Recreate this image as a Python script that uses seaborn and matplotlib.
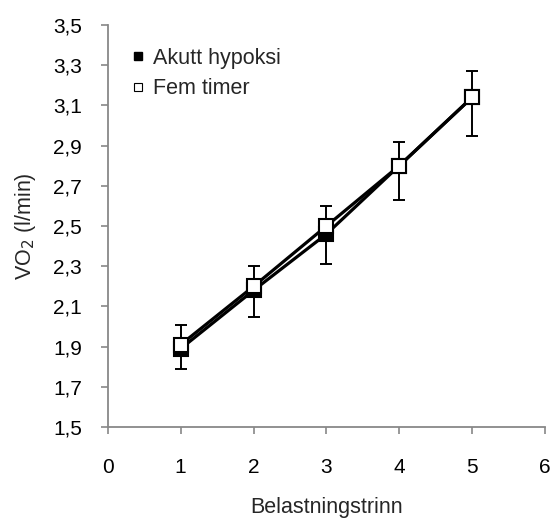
import matplotlib
matplotlib.use("Agg")
import matplotlib.pyplot as plt
from matplotlib.lines import Line2D
import seaborn as sns
import pandas as pd

# Belastningstrinn (workload stages)
stages = [1, 2, 3, 4, 5]

# VO2 (l/min) per stage
akutt_vo2 = [1.89, 2.18, 2.46, 2.80, 3.14]
akutt_err_low = [0.10, 0.13, 0.15, 0.17, 0.19]
fem_vo2 = [1.91, 2.20, 2.50, 2.80, 3.14]
fem_err_high = [0.10, 0.10, 0.10, 0.12, 0.13]

labels = ["Akutt hypoksi", "Fem timer"]
yticks = [1.5, 1.7, 1.9, 2.1, 2.3, 2.5, 2.7, 2.9, 3.1, 3.3, 3.5]
xticks = [0, 1, 2, 3, 4, 5, 6]

df = pd.DataFrame({
    "Belastningstrinn": stages * 2,
    "VO2": akutt_vo2 + fem_vo2,
    "Gruppe": [labels[0]] * len(stages) + [labels[1]] * len(stages),
})

sns.set_style("white")
plt.rcParams["font.family"] = ["Liberation Sans", "DejaVu Sans"]

FS = 15

fig = plt.figure(figsize=(5.5, 5.19), dpi=100)
ax = fig.add_axes([0.196, 0.177, 0.795, 0.775])

# error bars: lower for acute hypoxia, upper for five hours
ax.errorbar(stages, akutt_vo2, yerr=[akutt_err_low, [0] * len(stages)],
            fmt="none", ecolor="black", elinewidth=1.4, capsize=4.3,
            capthick=1.4, zorder=2)
ax.errorbar(stages, fem_vo2, yerr=[[0] * len(stages), fem_err_high],
            fmt="none", ecolor="black", elinewidth=1.4, capsize=4.3,
            capthick=1.4, zorder=2)

sns.lineplot(data=df[df["Gruppe"] == labels[0]], x="Belastningstrinn", y="VO2",
             color="black", linewidth=2.3, marker="s", markersize=9.5,
             markerfacecolor="black", markeredgecolor="black",
             markeredgewidth=1.5, ax=ax, zorder=3, legend=False)
sns.lineplot(data=df[df["Gruppe"] == labels[1]], x="Belastningstrinn", y="VO2",
             color="black", linewidth=2.3, marker="s", markersize=9.5,
             markerfacecolor="white", markeredgecolor="black",
             markeredgewidth=1.5, ax=ax, zorder=4, legend=False)

ax.set_xlim(0, 6)
ax.set_ylim(1.5, 3.5)
ax.set_xticks(xticks)
ax.set_yticks(yticks)
ax.set_xticklabels([str(x) for x in xticks])
ax.set_yticklabels([f"{y:.1f}".replace(".", ",") for y in yticks])

ax.tick_params(axis="both", labelsize=FS, colors="#888888", labelcolor="black",
               length=5, width=1.2, direction="out", bottom=True, left=True)
ax.tick_params(axis="x", pad=17.5)
ax.tick_params(axis="y", pad=13.5)
for side in ["top", "right"]:
    ax.spines[side].set_visible(False)
for side in ["left", "bottom"]:
    ax.spines[side].set_color("#888888")
    ax.spines[side].set_linewidth(1.3)

ax.set_xlabel("Belastningstrinn", fontsize=15.5, labelpad=14)
ax.set_ylabel("VO$_2$ (l/min)", fontsize=15.5, labelpad=11)

handles = [
    Line2D([], [], linestyle="none", marker="s", markersize=5.5,
           markerfacecolor="black", markeredgecolor="black"),
    Line2D([], [], linestyle="none", marker="s", markersize=5.5,
           markerfacecolor="white", markeredgecolor="black", markeredgewidth=0.8),
]
ax.legend(handles, labels, loc="upper left", bbox_to_anchor=(0.038, 0.965),
          frameon=False, fontsize=15.5, handlelength=0.5, handletextpad=0.45,
          labelspacing=0.45, borderaxespad=0)

fig.savefig("out.png", dpi=100)
